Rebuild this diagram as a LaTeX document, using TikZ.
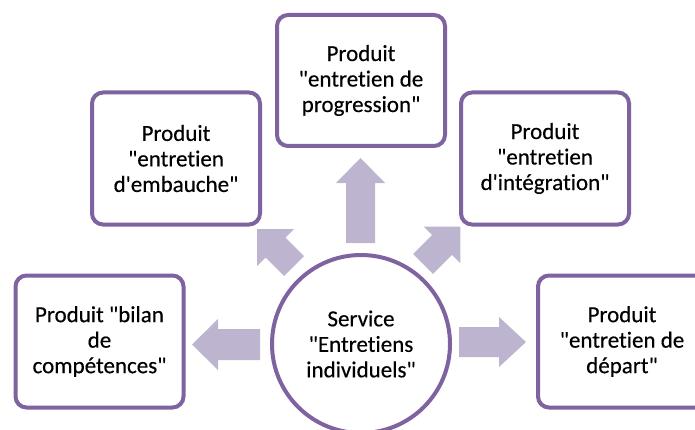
\documentclass[tikz,border=0pt]{standalone}
\usepackage{fontspec}
\setmainfont{Carlito}[Ligatures={TeXOff,NoCommon}, FakeBold=0.35]
\definecolor{boxline}{RGB}{127,98,160}
\definecolor{arrowfill}{RGB}{189,180,207}
\definecolor{txt}{RGB}{0,0,0}
\newcommand\myBlockArrow[6]{%
  \fill[arrowfill, shift={(#1)}, rotate=#2]
    (0,-#5) -- (#3,-#5) -- (#3,-#6) -- ({#3+#4},0) -- (#3,#6) -- (#3,#5) -- (0,#5) -- cycle;}
\begin{document}
\begin{tikzpicture}[x=1pt,y=1pt,
  prodbox/.style={draw=boxline, line width=4pt, fill=white, rounded corners=11pt,
    minimum width=168pt, minimum height=132pt, align=center, text=txt,
    font=\fontsize{23}{25.5}\selectfont, inner sep=2pt},
  servcircle/.style={draw=boxline, line width=4pt, fill=white, circle,
    minimum size=178pt, align=center, text=txt,
    font=\fontsize{23}{25.5}\selectfont, inner sep=0pt}]
\useasboundingbox (0,0) rectangle (695,429);
\clip (0,0) rectangle (695,429);
% nodes
\node[servcircle] (serv) at (361,85) {Service\\"Entretiens\\individuels"};
\node[prodbox, minimum height=131pt] (prog) at (361,348.5) {Produit\\"entretien de\\progression"};
\node[prodbox] (emb) at (176,270.5) {Produit\\"entretien\\d'embauche"};
\node[prodbox] (integ) at (545,270.5) {Produit\\"entretien\\d'intégration"};
\node[prodbox] (bilan) at (99.5,87.5) {Produit "bilan\\de\\compétences"};
\node[prodbox] (depart) at (622,87.5) {Produit\\"entretien de\\départ"};
% arrow start points (shaft ends next to the circle)
\coordinate (aUp) at (360.5,186);
\coordinate (aLeft) at (260,84.5);
\coordinate (aRight) at (459,87);
\coordinate (aNW) at (294,163);
\coordinate (aNE) at (423,165);
% block arrows
\myBlockArrow{aUp}{90}{60}{25}{14.5}{24.5}
\myBlockArrow{aLeft}{180}{42}{26}{15.5}{25.5}
\myBlockArrow{aRight}{0}{40}{27}{15}{25}
\myBlockArrow{aNW}{135}{26}{26}{14}{26}
\myBlockArrow{aNE}{45}{27}{26}{14}{26}
\end{tikzpicture}
\end{document}
